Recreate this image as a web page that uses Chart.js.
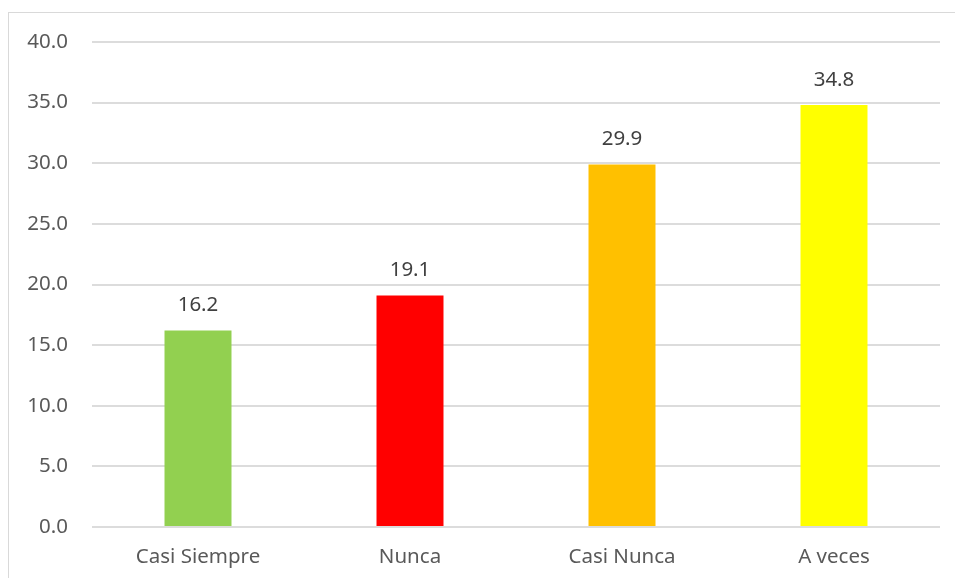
<!DOCTYPE html>
<html>
<head>
<meta charset="utf-8">
<script src="https://cdn.jsdelivr.net/npm/chart.js@4.4.1/dist/chart.umd.min.js"></script>
<style>
    html, body { margin: 0; padding: 0; background: #fff; overflow: hidden; }
    #frame { position: absolute; left: 8px; top: 12px; width: 960px; height: 580px; border: 1px solid #d9d9d9; }
    #wrap { position: absolute; left: 0; top: 0; width: 955px; height: 578px; }
</style>
</head>
<body>
<div id="frame"></div>
<div id="wrap"><canvas id="myChart"></canvas></div>
<script>
const categories = ["Casi Siempre", "Nunca", "Casi Nunca", "A veces"]
const values = [16.2, 19.1, 29.9, 34.8]
const barColors = ["#92d050", "#ff0000", "#ffc000", "#ffff00"]

const fontFamily = "'Noto Sans', 'Open Sans', sans-serif"
const fontSize = 20.5

// value labels above each bar
const barLabels = {
    id: "barLabels",
    afterDatasetsDraw(chart) {
        const ctx = chart.ctx
        const meta = chart.getDatasetMeta(0)
        ctx.save()
        ctx.font = fontSize + "px " + fontFamily
        ctx.fillStyle = "#404040"
        ctx.textAlign = "center"
        ctx.textBaseline = "middle"
        meta.data.forEach((bar, i) => {
            ctx.fillText(values[i].toFixed(1), bar.x, bar.y - 25)
        })
        ctx.restore()
    }
}

const ctx1 = document.getElementById("myChart").getContext("2d")

new Chart(ctx1, {
    type: "bar",
    data: {
        labels: categories,
        datasets: [{
            data: values,
            backgroundColor: barColors,
            borderWidth: 0,
            categoryPercentage: 1,
            barPercentage: 0.316
        }]
    },
    options: {
        responsive: true,
        maintainAspectRatio: false,
        animation: false,
        layout: { padding: { left: 0, top: 42, right: 15, bottom: 0 } },
        plugins: {
            legend: { display: false },
            tooltip: { enabled: false }
        },
        scales: {
            x: {
                grid: { display: false, drawTicks: false },
                border: { display: false },
                ticks: {
                    color: "#595959",
                    font: { family: fontFamily, size: fontSize },
                    padding: 18,
                    maxRotation: 0
                },
                afterFit(scale) { scale.height = 51 }
            },
            y: {
                min: 0,
                max: 40,
                grid: { color: "#dcdcdc", lineWidth: 2, drawTicks: false },
                border: { display: false },
                ticks: {
                    stepSize: 5,
                    color: "#595959",
                    font: { family: fontFamily, size: fontSize },
                    padding: 24,
                    callback: v => v.toFixed(1)
                },
                afterFit(scale) { scale.width = 92 }
            }
        }
    },
    plugins: [barLabels]
})
</script>
</body>
</html>
